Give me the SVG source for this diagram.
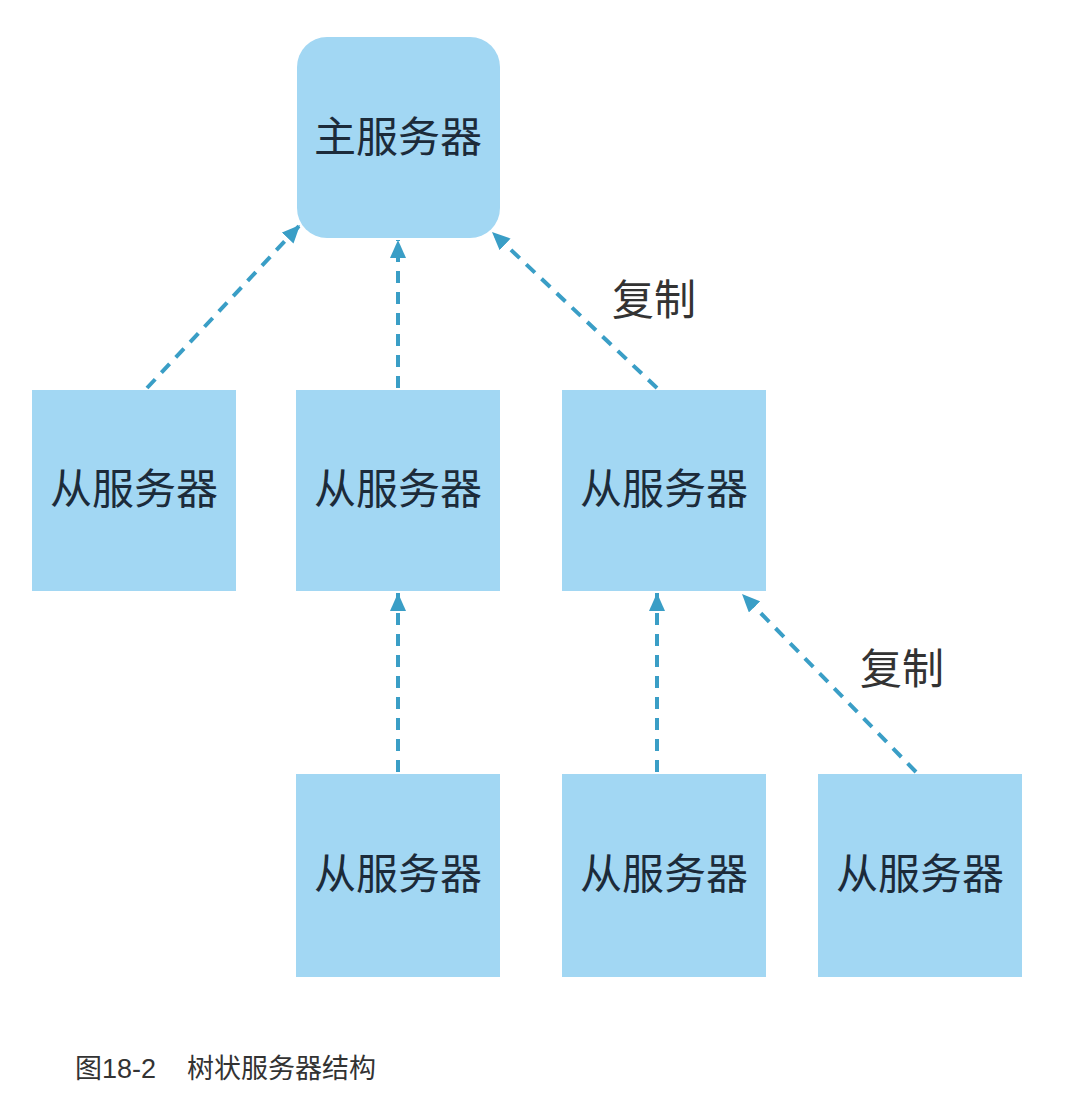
<svg xmlns="http://www.w3.org/2000/svg" width="1070" height="1116" viewBox="0 0 1070 1116">
<style>
.box{fill:#a2d7f3;}
.lbl{font-family:"Liberation Serif","Noto Sans CJK SC",serif;font-size:42px;fill:#1c2b3a;text-anchor:middle;dominant-baseline:central;}
.edge{stroke:#3a9ec6;stroke-width:4;stroke-dasharray:12 9;fill:none;}
.note{font-family:"Liberation Sans","Noto Sans CJK SC",sans-serif;font-size:42px;fill:#333;}
.cap{font-family:"Liberation Sans","Noto Sans CJK SC",sans-serif;font-size:27px;fill:#333;}
</style>
<defs>
<marker id="ah" markerUnits="userSpaceOnUse" markerWidth="20" markerHeight="16" refX="18" refY="8" orient="auto">
<path d="M0,0 L18,8 L0,16 Z" fill="#3a9ec6"/>
</marker>
</defs>
<rect width="1070" height="1116" fill="#fff"/>
<g id="master"><rect class="box" x="297" y="37" width="203" height="201" rx="30"/><text class="lbl" x="398" y="138">主服务器</text></g>
<g id="s1"><rect class="box" x="32" y="390" width="204" height="201"/><text class="lbl" x="134" y="490">从服务器</text></g>
<g id="s2"><rect class="box" x="296" y="390" width="204" height="201"/><text class="lbl" x="398" y="490">从服务器</text></g>
<g id="s3"><rect class="box" x="562" y="390" width="204" height="201"/><text class="lbl" x="664" y="490">从服务器</text></g>
<g id="s4"><rect class="box" x="296" y="774" width="204" height="203"/><text class="lbl" x="398" y="875">从服务器</text></g>
<g id="s5"><rect class="box" x="562" y="774" width="204" height="203"/><text class="lbl" x="664" y="875">从服务器</text></g>
<g id="s6"><rect class="box" x="818" y="774" width="204" height="203"/><text class="lbl" x="920" y="875">从服务器</text></g>
<g id="connectors">
<line class="edge" x1="147" y1="388" x2="300" y2="225" marker-end="url(#ah)"/>
<line class="edge" x1="398" y1="388" x2="398" y2="240" marker-end="url(#ah)"/>
<line class="edge" x1="657" y1="388" x2="492" y2="232" marker-end="url(#ah)"/>
<line class="edge" x1="398" y1="772" x2="398" y2="593" marker-end="url(#ah)"/>
<line class="edge" x1="657" y1="772" x2="657" y2="593" marker-end="url(#ah)"/>
<line class="edge" x1="916" y1="772" x2="742" y2="594" marker-end="url(#ah)"/>
</g>
<text class="note" x="612" y="315">复制</text>
<text class="note" x="860" y="684">复制</text>
<text class="cap" x="75" y="1078">图18-2<tspan x="187">树状服务器结构</tspan></text>
</svg>
